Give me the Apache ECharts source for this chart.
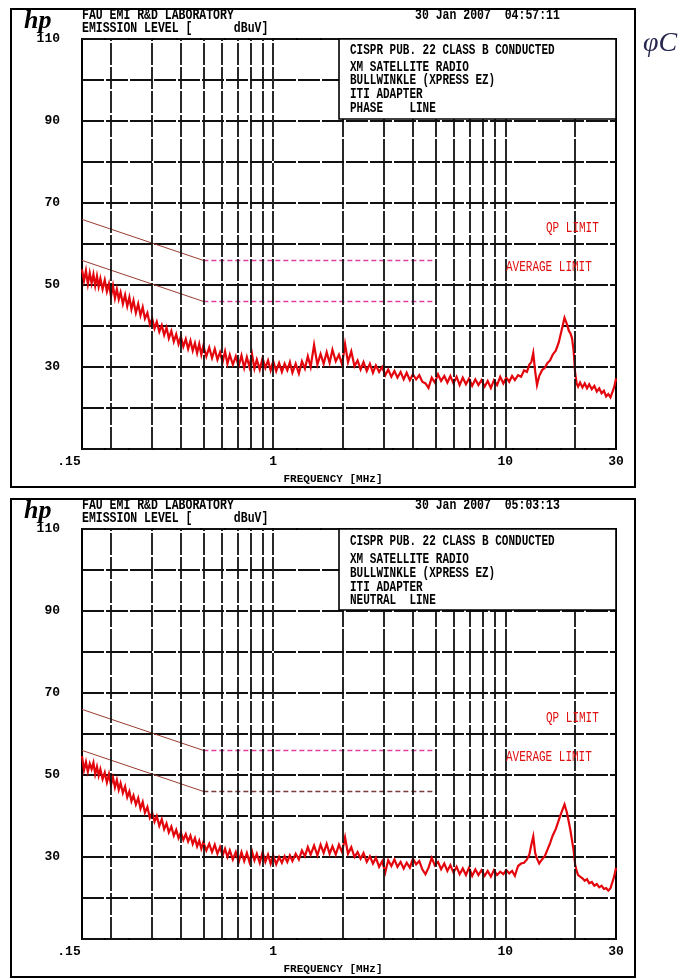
<!DOCTYPE html>
<html>
<head>
<meta charset="utf-8">
<script src="https://cdn.jsdelivr.net/npm/echarts@6/dist/echarts.min.js"></script>
<style>
  html, body { margin: 0; padding: 0; background: #fff; }
  #chart { width: 686px; height: 979px; }
</style>
</head>
<body>
<div id="chart"></div>
<script>
// Conducted emission scans, 150 kHz – 30 MHz (level in dBuV)
const freqMHz = [
  0.150, 0.153, 0.156, 0.159, 0.162, 0.165, 0.168, 0.171, 0.174, 0.177,
  0.180, 0.184, 0.188, 0.192, 0.196, 0.200, 0.204, 0.208, 0.212, 0.216,
  0.220, 0.225, 0.230, 0.235, 0.240, 0.245, 0.250, 0.256, 0.262, 0.268,
  0.274, 0.280, 0.287, 0.294, 0.301, 0.308, 0.315, 0.323, 0.331, 0.339,
  0.347, 0.355, 0.364, 0.373, 0.382, 0.391, 0.400, 0.410, 0.420, 0.430,
  0.440, 0.450, 0.460, 0.470, 0.480, 0.490, 0.500, 0.515, 0.530, 0.545,
  0.560, 0.575, 0.590, 0.605, 0.620, 0.635, 0.650, 0.670, 0.690, 0.710,
  0.730, 0.750, 0.770, 0.790, 0.810, 0.830, 0.850, 0.875, 0.900, 0.925,
  0.950, 0.975, 1.00, 1.03, 1.06, 1.09, 1.12, 1.15, 1.18, 1.21,
  1.25, 1.29, 1.33, 1.37, 1.41, 1.45, 1.50, 1.55, 1.60, 1.65,
  1.70, 1.75, 1.80, 1.86, 1.92, 1.98, 2.04, 2.10, 2.17, 2.24,
  2.31, 2.38, 2.45, 2.53, 2.61, 2.69, 2.77, 2.86, 2.95, 3.04,
  3.13, 3.23, 3.33, 3.43, 3.54, 3.65, 3.76, 3.88, 4.00, 4.13,
  4.26, 4.39, 4.53, 4.67, 4.82, 4.97, 5.13, 5.29, 5.46, 5.63,
  5.80, 5.98, 6.17, 6.36, 6.56, 6.77, 6.98, 7.20, 7.43, 7.66,
  7.90, 8.15, 8.40, 8.67, 8.94, 9.22, 9.51, 9.81, 10.1, 10.4,
  10.7, 11.0, 11.35, 11.7, 12.05, 12.4, 12.7, 12.95, 13.2, 13.45,
  13.7, 14.0, 14.4, 14.8, 15.2, 15.6, 16.0, 16.5, 17.0, 17.5,
  18.0, 18.4, 18.8, 19.1, 19.4, 19.7, 20.0, 20.3, 20.6, 21.0,
  21.5, 22.0, 22.5, 23.0, 23.6, 24.2, 24.8, 25.4, 26.0, 26.6,
  27.2, 27.8, 28.4, 29.0, 29.5, 30.0
];

const phaseLevel = [
  53.8, 51.0, 53.5, 50.2, 52.9, 50.4, 52.6, 49.8, 52.2, 49.6,
  51.6, 49.0, 51.2, 48.4, 50.3, 47.2, 49.8, 46.8, 49.0, 46.5,
  48.2, 45.4, 47.6, 44.8, 47.0, 44.1, 46.2, 43.2, 45.4, 42.6,
  44.6, 41.8, 43.2, 40.4, 41.8, 39.4, 41.0, 38.6, 40.2, 37.8,
  39.6, 37.0, 38.8, 36.2, 38.0, 35.6, 37.4, 35.0, 36.8, 34.4,
  36.4, 34.0, 35.8, 33.4, 35.6, 33.0, 35.2, 32.6, 34.8, 32.2,
  34.4, 31.8, 33.6, 31.2, 33.8, 30.8, 33.0, 30.6, 32.6, 30.2,
  32.8, 29.8, 32.4, 30.0, 33.2, 29.6, 31.8, 29.4, 32.2, 29.8,
  31.6, 29.2, 31.4, 29.0, 31.0, 28.8, 30.8, 29.2, 31.2, 28.6,
  30.8, 28.4, 31.4, 29.6, 32.6, 30.0, 35.4, 30.6, 33.2, 30.8,
  33.6, 31.0, 34.2, 31.4, 33.0, 30.6, 35.6, 31.2, 33.8, 30.2,
  31.6, 29.4, 31.2, 29.0, 30.8, 28.6, 30.4, 28.8, 30.0, 28.0,
  29.4, 27.6, 29.0, 27.4, 28.8, 27.0, 28.6, 26.8, 28.2, 27.0,
  28.0, 26.4, 26.0, 24.9, 27.4, 26.2, 28.2, 26.6, 27.8, 26.2,
  27.8, 26.0, 27.6, 25.6, 27.4, 25.8, 27.2, 25.4, 27.0, 25.6,
  26.8, 25.2, 26.6, 24.9, 26.8, 25.6, 27.6, 26.0, 27.4, 26.4,
  27.8, 26.8, 28.0, 27.6, 29.2, 28.8, 30.6, 31.2, 33.4, 29.0,
  25.6, 27.8, 29.2, 29.8, 31.0, 31.6, 33.0, 34.0, 36.0, 39.0,
  42.0, 40.6, 38.8, 38.2, 37.0, 34.0, 28.6, 26.0, 25.2, 26.2,
  25.0, 26.0, 24.8, 25.8, 24.6, 25.4, 24.0, 24.8, 23.6, 24.2,
  22.8, 23.4, 22.6, 24.0, 25.2, 27.2
];

const neutralLevel = [
  54.6, 51.2, 53.2, 50.8, 52.8, 51.4, 53.0, 50.2, 52.0, 49.8,
  51.4, 49.0, 50.6, 48.2, 50.2, 47.6, 49.4, 47.0, 48.8, 46.4,
  48.0, 45.6, 47.2, 44.6, 46.0, 43.6, 45.0, 42.8, 44.4, 41.8,
  43.4, 40.8, 42.2, 39.6, 40.8, 38.6, 40.0, 37.6, 39.2, 36.8,
  38.2, 36.0, 37.4, 35.2, 36.6, 34.6, 36.0, 34.2, 35.6, 33.8,
  35.2, 33.2, 34.6, 32.6, 34.0, 32.0, 33.6, 31.6, 33.2, 31.2,
  33.0, 30.8, 32.4, 30.4, 32.0, 30.0, 31.6, 29.4, 31.2, 28.8,
  31.2, 29.0, 31.0, 28.8, 31.4, 29.2, 30.8, 28.6, 31.2, 28.8,
  30.6, 28.4, 30.4, 28.2, 30.0, 28.6, 30.2, 28.8, 30.4, 29.0,
  30.8, 29.4, 31.6, 30.2, 32.4, 30.6, 32.8, 30.4, 33.0, 31.0,
  33.2, 30.8, 32.6, 30.6, 33.0, 31.2, 34.8, 30.8, 32.4, 30.0,
  31.2, 29.6, 31.0, 28.8, 30.2, 28.4, 29.8, 27.6, 29.0, 26.2,
  29.2, 27.8, 29.4, 27.6, 28.8, 27.2, 28.6, 27.4, 29.6, 28.2,
  29.0, 27.0, 25.8, 27.4, 29.8, 28.0, 28.8, 27.0, 28.4, 26.6,
  28.0, 26.2, 27.6, 25.8, 27.2, 25.6, 27.4, 25.4, 27.0, 25.6,
  26.8, 25.4, 26.6, 25.2, 26.8, 25.6, 26.4, 25.8, 26.8, 26.0,
  26.6, 25.4, 27.8, 28.4, 28.6, 29.4, 30.6, 33.0, 35.0, 31.0,
  29.6, 28.4, 29.4, 30.2, 31.8, 33.4, 35.2, 36.8, 39.0, 41.0,
  42.8, 41.0, 38.4, 36.4, 34.0, 31.6, 28.2, 26.6, 25.6, 25.2,
  24.8, 24.2, 24.6, 23.6, 23.9, 23.0, 23.4, 22.6, 23.0, 22.2,
  22.4, 21.8, 22.4, 24.0, 25.4, 27.4
];

// CISPR 22 class B conducted limits
const limitSlopeFreq = [0.15, 0.5];
const limitFlatFreq = [0.5, 5];
const qpSlopeLevel = [66, 56];
const qpFlatLevel = [56, 56];
const avgSlopeLevel = [56, 46];
const avgFlatLevel = [46, 46];

// log-grid frequencies and labelled level ticks
const gridFreqMHz = [0.2, 0.3, 0.4, 0.5, 0.6, 0.7, 0.8, 0.9, 1, 2, 3, 4, 5, 6, 7, 8, 9, 10, 20];
const levelTickLabels = [30, 50, 70, 90, 110];

const FONT = "'Liberation Mono', 'DejaVu Sans Mono', monospace";
const pairs = (xs, ys) => xs.map((x, i) => [x, ys[i]]);

const panels = [
  { dy: 0, top: 39, levels: phaseLevel, stamp: '30 Jan 2007  04:57:11', lineName: 'PHASE    LINE',
    boxH: 80, boxText: [50, 67, 80, 94, 108], avgFlatColor: '#e0409c' },
  { dy: 490, top: 529, levels: neutralLevel, stamp: '30 Jan 2007  05:03:13', lineName: 'NEUTRAL  LINE',
    boxH: 81, boxText: [541, 559, 573, 587, 600], avgFlatColor: '#7a3b3b' }
];

const gridLine = { color: '#111', width: 1.8, type: [22, 2] };
const labelFont = { fontFamily: FONT, fontWeight: 'bold', fontSize: 13, color: '#000' };

function txt(x, y, text, opts) {
  opts = opts || {};
  return {
    type: 'text', x: x, y: y, z: 100, scaleY: opts.scaleY || 1.3,
    style: {
      text: text, x: 0, y: 0,
      font: opts.font || ('bold 11px ' + FONT),
      fill: opts.fill || '#000',
      textVerticalAlign: 'middle', textAlign: opts.align || 'left'
    }
  };
}

const grids = [], xAxes = [], yAxes = [], series = [], graphics = [];

panels.forEach((p, i) => {
  grids.push({
    left: 82, top: p.top, width: 534, height: 410,
    show: true, borderColor: '#000', borderWidth: 2, backgroundColor: 'transparent'
  });
  xAxes.push({
    type: 'log', logBase: 10, gridIndex: i, min: 0.15, max: 30,
    axisLine: { show: false }, axisTick: { show: false }, splitLine: { show: false },
    axisLabel: Object.assign({
      margin: 6, showMinLabel: true, showMaxLabel: true,
      formatter: v => (v < 0.5 ? '{lo|.15}' : String(Math.round(v))),
      rich: { lo: Object.assign({ padding: [0, 26, 0, 0] }, labelFont) }
    }, labelFont),
    name: 'FREQUENCY [MHz]', nameLocation: 'middle', nameGap: 25,
    nameTextStyle: { fontFamily: FONT, fontWeight: 'bold', fontSize: 11, color: '#000', padding: [0, 32, 0, 0] }
  });
  yAxes.push({
    type: 'value', gridIndex: i, min: 10, max: 110, interval: 10,
    axisLine: { show: false }, axisTick: { show: false },
    splitLine: { show: true, lineStyle: gridLine },
    axisLabel: Object.assign({
      margin: 22,
      formatter: v => (levelTickLabels.indexOf(v) >= 0 ? String(v) : '')
    }, labelFont)
  });

  series.push({
    type: 'line', xAxisIndex: i, yAxisIndex: i, z: 2, symbol: 'none', silent: true,
    data: pairs(limitSlopeFreq, qpSlopeLevel),
    lineStyle: { color: '#9a3b30', width: 1 },
    markLine: {
      silent: true, symbol: ['none', 'none'], label: { show: false }, animation: false,
      lineStyle: gridLine, data: gridFreqMHz.map(f => ({ xAxis: f }))
    }
  });
  series.push({
    type: 'line', xAxisIndex: i, yAxisIndex: i, z: 2, symbol: 'none', silent: true,
    data: pairs(limitFlatFreq, qpFlatLevel),
    lineStyle: { color: '#e0409c', width: 1.5, type: [5, 3] }
  });
  series.push({
    type: 'line', xAxisIndex: i, yAxisIndex: i, z: 2, symbol: 'none', silent: true,
    data: pairs(limitSlopeFreq, avgSlopeLevel),
    lineStyle: { color: '#9a3b30', width: 1 }
  });
  series.push({
    type: 'line', xAxisIndex: i, yAxisIndex: i, z: 2, symbol: 'none', silent: true,
    data: pairs(limitFlatFreq, avgFlatLevel),
    lineStyle: { color: p.avgFlatColor, width: 1.5, type: [5, 3] }
  });
  series.push({
    type: 'line', xAxisIndex: i, yAxisIndex: i, z: 3, symbol: 'none', silent: true,
    data: pairs(freqMHz, p.levels),
    lineStyle: { color: '#e3060c', width: 2.2, join: 'miter' }
  });

  const dy = p.dy;
  // outer sheet frame
  graphics.push({
    type: 'rect', z: 100, shape: { x: 11, y: 9 + dy, width: 624, height: 478 },
    style: { fill: 'none', stroke: '#000', lineWidth: 2 }
  });
  graphics.push(txt(24, 21 + dy, 'hp', { font: 'italic bold 26px "Liberation Serif", serif', scaleY: 1 }));
  graphics.push(txt(82, 15 + dy, 'FAU EMI R&D LABORATORY', { font: 'bold 11.5px ' + FONT }));
  graphics.push(txt(82, 28 + dy, 'EMISSION LEVEL [      dBuV]', { font: 'bold 11.5px ' + FONT }));
  graphics.push(txt(415, 15 + dy, p.stamp, { font: 'bold 11.5px ' + FONT }));
  // description box
  graphics.push({
    type: 'rect', z: 100, shape: { x: 339, y: p.top, width: 277, height: p.boxH },
    style: { fill: '#fff', stroke: '#000', lineWidth: 1.6 }
  });
  const boxLines = ['CISPR PUB. 22 CLASS B CONDUCTED', 'XM SATELLITE RADIO',
    'BULLWINKLE (XPRESS EZ)', 'ITI ADAPTER', p.lineName];
  boxLines.forEach((t, k) => graphics.push(txt(350, p.boxText[k], t)));
  graphics.push(txt(546, 228 + dy, 'QP LIMIT', { font: '11px ' + FONT, fill: '#e01010' }));
  graphics.push(txt(506, 267 + dy, 'AVERAGE LIMIT', { font: '11px ' + FONT, fill: '#e01010' }));
});

// handwritten note in the margin
graphics.push(txt(643, 44, 'φC', { font: 'italic 28px "Liberation Serif", serif', fill: '#26264e', scaleY: 1 }));

const chart = echarts.init(document.getElementById('chart'), null, { renderer: 'canvas' });
chart.setOption({
  animation: false,
  backgroundColor: '#fff',
  grid: grids,
  xAxis: xAxes,
  yAxis: yAxes,
  series: series,
  graphic: { elements: graphics }
});
</script>
</body>
</html>
